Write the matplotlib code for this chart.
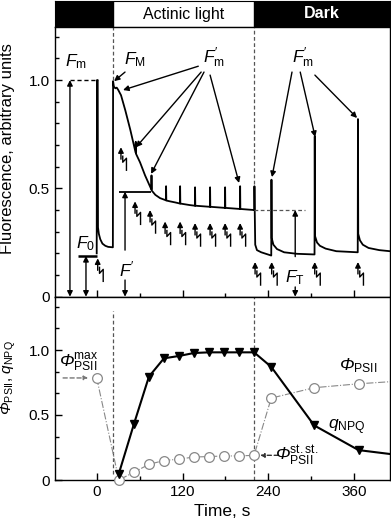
import matplotlib
matplotlib.use('Agg')
import matplotlib.pyplot as plt
from matplotlib.ticker import MultipleLocator, FuncFormatter
from matplotlib.transforms import ScaledTranslation

plt.rcParams['font.family'] = ['Liberation Sans', 'DejaVu Sans']
plt.rcParams['mathtext.fontset'] = 'custom'
plt.rcParams['mathtext.rm'] = 'Liberation Sans'
plt.rcParams['mathtext.it'] = 'Liberation Sans:italic'
plt.rcParams['mathtext.bf'] = 'Liberation Sans:bold'
plt.rcParams['mathtext.cal'] = 'Liberation Sans:italic'  # italic capital Phi

# fluorescence trace, time in s
trace_t = [0.0, 0.4, 1.4, 1.8, 3, 5, 8, 12, 16, 22.6, 22.9, 24, 26, 28, 30, 34, 40, 47,
           54.4, 54.6, 54.9, 60.6, 67.6, 76.4, 76.6, 76.9, 82, 88.6,
           96.8, 97.0, 97.3, 102.6, 110, 116.4, 116.6, 116.9, 130,
           137.3, 137.5, 137.8, 158.3, 158.5, 158.8, 179.3, 179.5, 179.8,
           200.3, 200.5, 200.8, 220.3, 220.5, 220.9, 221.6, 224, 230,
           244.0, 244.3, 244.7, 247, 252, 262, 280,
           304.5, 304.8, 305.2, 308, 312, 320, 335,
           364.9, 365.2, 365.6, 368, 372, 380, 395, 410]
trace_f = [0.20, 1.00, 1.00, 0.32, 0.29, 0.265, 0.245, 0.235, 0.23, 0.228, 0.995, 0.97, 0.962, 0.965, 0.955, 0.93, 0.86, 0.77,
           0.665, 0.715, 0.66, 0.62, 0.56, 0.495, 0.56, 0.49, 0.47, 0.455,
           0.445, 0.51, 0.444, 0.44, 0.435, 0.43, 0.51, 0.43, 0.423,
           0.42, 0.505, 0.42, 0.415, 0.505, 0.415, 0.41, 0.505, 0.41,
           0.405, 0.51, 0.405, 0.40, 0.51, 0.40, 0.24, 0.215, 0.205,
           0.19, 0.54, 0.27, 0.24, 0.22, 0.205, 0.198,
           0.195, 0.74, 0.28, 0.25, 0.235, 0.222, 0.21,
           0.205, 0.82, 0.29, 0.26, 0.24, 0.225, 0.215, 0.21]

# saturating flashes (arrow tip positions)
flash_t = [1.4, 33.9, 53.6, 74.6, 95.6, 116.6, 137.5, 158.5, 179.5, 200.5, 221.4, 244.6, 304.8, 365.2]
flash_y = [0.177, 0.69, 0.44, 0.40, 0.347, 0.347, 0.34, 0.34, 0.34, 0.34, 0.16, 0.16, 0.16, 0.16]

# quantum yield and non-photochemical quenching
phi_t = [0, 31, 52, 73, 94, 115, 136, 157, 178, 199, 220, 244, 304, 366, 410]
phi = [0.785, 0.0, 0.06, 0.12, 0.15, 0.16, 0.177, 0.18, 0.185, 0.185, 0.19, 0.63, 0.71, 0.74, 0.756]
qnpq_t = [31, 52, 73, 94, 115, 136, 157, 178, 199, 220, 244, 304, 366, 410]
qnpq = [0.05, 0.43, 0.795, 0.936, 0.954, 0.977, 0.982, 0.982, 0.982, 0.982, 0.87, 0.42, 0.23, 0.20]

light_on = 22.8
light_off = 220
F0 = 0.188
Fm = 1.0
Fprime = 0.485
FT = 0.40
xmin, xmax = -59, 410

fig = plt.figure(figsize=(3.91, 5.27), dpi=100)
L, W = 54.5 / 391, 335.5 / 391
ax_h = fig.add_axes([L, 1 - 27 / 527, W, 26 / 527])
ax1 = fig.add_axes([L, (527 - 296.7) / 527, W, (296.7 - 27) / 527])
ax2 = fig.add_axes([L, (527 - 480) / 527, W, (480 - 296.7) / 527])

# header strip
ax_h.set_xlim(xmin, xmax)
ax_h.set_ylim(0, 1)
ax_h.axvspan(xmin, light_on, color='k')
ax_h.axvspan(light_off, xmax, color='k')
ax_h.text((light_on + light_off) / 2, 0.5, 'Actinic light', ha='center', va='center', fontsize=11.5)
ax_h.text((light_off + xmax) / 2, 0.5, 'Dark', ha='center', va='center', fontsize=11.5,
          color='white', fontweight='bold')
ax_h.set_xticks([])
ax_h.set_yticks([])


def arrow(ax, x0, y0, x1, y1, style='-|>', color='k', ls='-', ms=8):
    ax.annotate('', xy=(x1, y1), xytext=(x0, y0),
                arrowprops=dict(arrowstyle=style, color=color, lw=1.0, ls=ls,
                                shrinkA=0, shrinkB=0, mutation_scale=ms))


def flash(ax, t, y):
    tr = fig.dpi_scale_trans + ScaledTranslation(t, y, ax.transData)
    ax.annotate('', xy=(t, y), xytext=(0, -8.6), textcoords='offset points',
                arrowprops=dict(arrowstyle='-|>', color='k', lw=1.0, shrinkA=0, shrinkB=0,
                                mutation_scale=8))
    ax.plot([0.018, 0.018, 0.055, 0.055], [-0.09, -0.15, -0.11, -0.23],
            color='k', lw=1.0, transform=tr)


# ---- top panel
ax1.plot(trace_t, trace_f, color='k', lw=1.3)
ax1.hlines(F0, -26, 0, color='k', lw=1.8)
ax1.hlines(Fm, -37.4, 1.4, color='k', lw=1.0, ls=(0, (3, 2)))
ax1.hlines(Fprime, 31, 76, color='k', lw=1.3)
ax1.hlines(FT, light_off, 291.5, color='#555', lw=0.9, ls=(0, (3, 2)))
ax1.vlines(light_on, 1.0, 1.25, color='#555', lw=0.9, ls=(0, (3, 2)))
ax1.vlines(light_off, 0.52, 1.25, color='#555', lw=0.9, ls=(0, (3, 2)))
for t, y in zip(flash_t, flash_y):
    flash(ax1, t, y)

arrow(ax1, -37.4, 0, -37.4, Fm, style='<|-|>')
arrow(ax1, -15, 0, -15, F0, style='<|-|>')
arrow(ax1, 39.6, 0.215, 39.6, Fprime)
arrow(ax1, 39.6, 0.077, 39.6, 0)
arrow(ax1, 277.5, 0.185, 277.5, FT)
arrow(ax1, 277.5, 0.045, 277.5, 0)
arrow(ax1, 39.6, 1.037, 24.3, 0.995)
for x0, y0, x1, y1 in [(142, 1.064, 36.8, 0.954), (146, 1.037, 55, 0.69),
                       (150, 1.037, 76, 0.567), (158.5, 1.023, 199, 0.525),
                       (273, 1.037, 245, 0.552), (284.5, 1.037, 305.4, 0.737),
                       (305, 1.023, 364, 0.825)]:
    arrow(ax1, x0, y0, x1, y1)

fs = 12.5
ax1.text(-29, 1.083, r'$F_{\rm m}$', ha='center', va='center', fontsize=fs)
ax1.text(53, 1.092, r'$F_{\rm M}$', ha='center', va='center', fontsize=fs)
ax1.text(-15.7, 0.243, r'$F_0$', ha='center', va='center', fontsize=fs)
ax1.text(42, 0.128, r"$F'$", ha='center', va='center', fontsize=fs)
ax1.text(277.5, 0.086, r'$F_{\rm T}$', ha='center', va='center', fontsize=fs)
ax1.text(164, 1.104, r"$F_{\rm m}^{\prime}$", ha='center', va='center', fontsize=fs)
ax1.text(288, 1.104, r"$F_{\rm m}^{\prime}$", ha='center', va='center', fontsize=fs)

ax1.set_xlim(xmin, xmax)
ax1.set_ylim(0, 1.245)
ax1.set_yticks([0, 0.5, 1.0])
ax1.yaxis.set_minor_locator(MultipleLocator(0.1))
ax1.set_xticks([0, 120, 240, 360])
ax1.xaxis.set_minor_locator(MultipleLocator(60))
ax1.set_xticklabels([])
ax1.set_ylabel('Fluorescence, arbitrary units', fontsize=12)
ax1.yaxis.set_label_coords(-0.118, 0.55)

# ---- bottom panel
ax2.plot(phi_t, phi, color='#888', lw=0.8, ls='-.', marker='o', ms=7,
         mfc='white', mec='#888', mew=0.9, markevery=list(range(14)), clip_on=False, zorder=3)
ax2.plot(qnpq_t, qnpq, color='k', lw=1.5, marker='v', ms=6, markevery=list(range(13)), zorder=4)
ax2.vlines(light_on, 0.05, 1.3, color='#555', lw=0.9, ls=(0, (3, 2)))
ax2.vlines(light_off, 0, 1.41, color='#555', lw=0.9, ls=(0, (3, 2)))
arrow(ax2, -47, 0.785, -12, 0.785, color='#777', ls=(0, (3, 2)), ms=6)
arrow(ax2, 253.9, 0.19, 228.5, 0.19, color='#333', ls=(0, (3, 2)), ms=6)
ax2.text(-25, 0.90, r'$\mathcal{\Phi}^{\rm max}_{\rm PSII}$', ha='center', va='center', fontsize=fs)
ax2.text(280, 0.185, r'$\mathcal{\Phi}^{\rm st.st.}_{\rm PSII}$', ha='center', va='center', fontsize=fs)
ax2.text(365, 0.877, r'$\mathcal{\Phi}_{\rm PSII}$', ha='center', va='center', fontsize=fs)
ax2.text(350, 0.408, r'$q_{\rm NPQ}$', ha='center', va='center', fontsize=fs)

ax2.set_xlim(xmin, xmax)
ax2.set_ylim(0, 1.41)
ax2.set_yticks([0, 0.5, 1.0])
ax2.yaxis.set_minor_locator(MultipleLocator(0.5 / 3))
ax2.set_xticks([0, 120, 240, 360])
ax2.xaxis.set_minor_locator(MultipleLocator(60))
ax2.set_xlabel('Time, s', fontsize=12.5, labelpad=4)
ax2.set_ylabel(r'$\mathcal{\Phi}_{\rm PSII}$, $q_{\rm NPQ}$', fontsize=11)
ax2.yaxis.set_label_coords(-0.108, 0.56)

fmt = FuncFormatter(lambda v, _: '0' if v == 0 else f'{v:.1f}')
for ax in (ax1, ax2):
    ax.yaxis.set_major_formatter(fmt)
    ax.tick_params(which='both', direction='in', top=False, right=False, labelsize=11, width=1.0)
    ax.tick_params(which='major', length=5)
    ax.tick_params(which='minor', length=3)
    for s in ax.spines.values():
        s.set_linewidth(1.0)

fig.savefig('out.png', dpi=100)
